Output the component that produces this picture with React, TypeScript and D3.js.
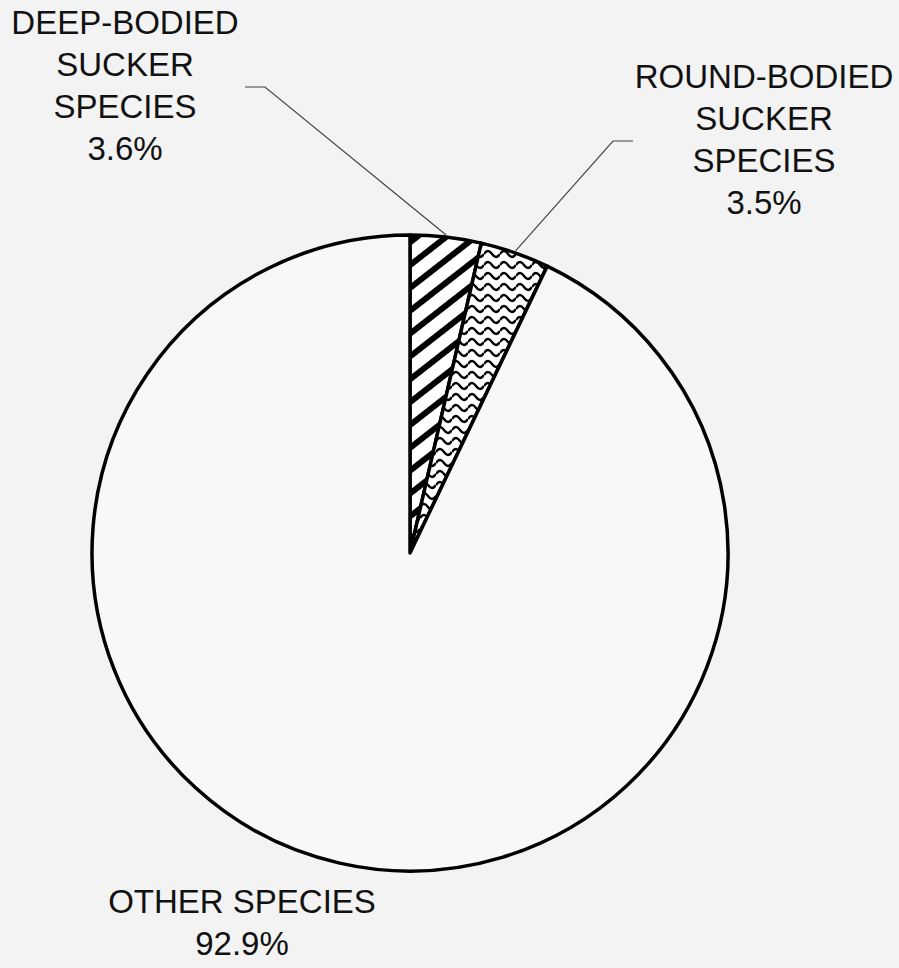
import React from "react";
import * as d3 from "d3";

// Species composition of the catch (percent of total)
const categories = ["DEEP-BODIED SUCKER SPECIES", "ROUND-BODIED SUCKER SPECIES", "OTHER SPECIES"];
const labelLines = [
  ["DEEP-BODIED", "SUCKER", "SPECIES"],
  ["ROUND-BODIED", "SUCKER", "SPECIES"],
  ["OTHER SPECIES"],
];
const shares = [3.6, 3.5, 92.9];
const fills = ["url(#diag)", "url(#wave)", "none"];

const W = 899;
const H = 968;
const CX = 410;
const CY = 553;
const R = 318;
const FONT = "'Liberation Sans', Arial, Helvetica, sans-serif";
const LINE_H = 42;

// Label block placement: centre x, first baseline, and leader knee/end points
const labelLayout = [
  { x: 125, y: 34, leaderStart: [245, 87], leaderKnee: [265, 87] },
  { x: 764, y: 88, leaderStart: [633, 141], leaderKnee: [613, 141] },
  { x: 242, y: 913, leaderStart: null, leaderKnee: null },
];

export default function App() {
  const pie = d3
    .pie<number>()
    .sort(null)
    .value((d) => d)
    .startAngle(0)
    .endAngle(2 * Math.PI);
  const arcs = pie(shares);
  const arc = d3.arc<d3.PieArcDatum<number>>().innerRadius(0).outerRadius(R);

  const edgePoint = (a: d3.PieArcDatum<number>) => {
    const mid = (a.startAngle + a.endAngle) / 2;
    return [CX + (R + 2) * Math.sin(mid), CY - (R + 2) * Math.cos(mid)];
  };

  const wavePath = "M0,6 Q4,0 8,6 T16,6";

  return (
    <div style={{ position: "absolute", left: 0, top: 0 }}>
      <svg width={W} height={H} style={{ display: "block" }}>
        <defs>
          <pattern
            id="diag"
            patternUnits="userSpaceOnUse"
            width={40}
            height={18}
            patternTransform={`translate(${CX},${CY}) rotate(-38)`}
          >
            <rect x={0} y={0} width={40} height={18} fill="#fff" />
            <rect x={0} y={0} width={40} height={6} fill="#000" />
          </pattern>
          <pattern
            id="wave"
            patternUnits="userSpaceOnUse"
            width={16}
            height={11}
            patternTransform={`translate(${CX},${CY})`}
          >
            <rect x={0} y={0} width={16} height={11} fill="#fff" />
            <path d={wavePath} fill="none" stroke="#000" strokeWidth={2.3} />
          </pattern>
        </defs>
        <rect x={0} y={0} width={W} height={H} fill="#f3f3f3" />
        <g transform={`translate(${CX},${CY})`}>
          {arcs.map((a, i) => (
            <path
              key={categories[i]}
              d={arc(a) || ""}
              fill={fills[i] === "none" ? "#f8f8f8" : fills[i]}
              stroke="#000"
              strokeWidth={3.5}
              strokeLinejoin="round"
            />
          ))}
        </g>
        {arcs.map((a, i) => {
          const l = labelLayout[i];
          if (!l.leaderStart || !l.leaderKnee) return null;
          const [ex, ey] = edgePoint(a);
          return (
            <polyline
              key={"leader" + i}
              points={`${l.leaderStart[0]},${l.leaderStart[1]} ${l.leaderKnee[0]},${l.leaderKnee[1]} ${ex},${ey}`}
              fill="none"
              stroke="#444"
              strokeWidth={1.2}
            />
          );
        })}
        {labelLines.map((lines, i) => {
          const l = labelLayout[i];
          const all = [...lines, `${shares[i].toFixed(1)}%`];
          return (
            <text
              key={"label" + i}
              x={l.x}
              y={l.y}
              textAnchor="middle"
              fontFamily={FONT}
              fontSize={33}
              fill="#111"
            >
              {all.map((t, j) => (
                <tspan key={j} x={l.x} y={l.y + j * LINE_H}>
                  {t}
                </tspan>
              ))}
            </text>
          );
        })}
      </svg>
    </div>
  );
}
